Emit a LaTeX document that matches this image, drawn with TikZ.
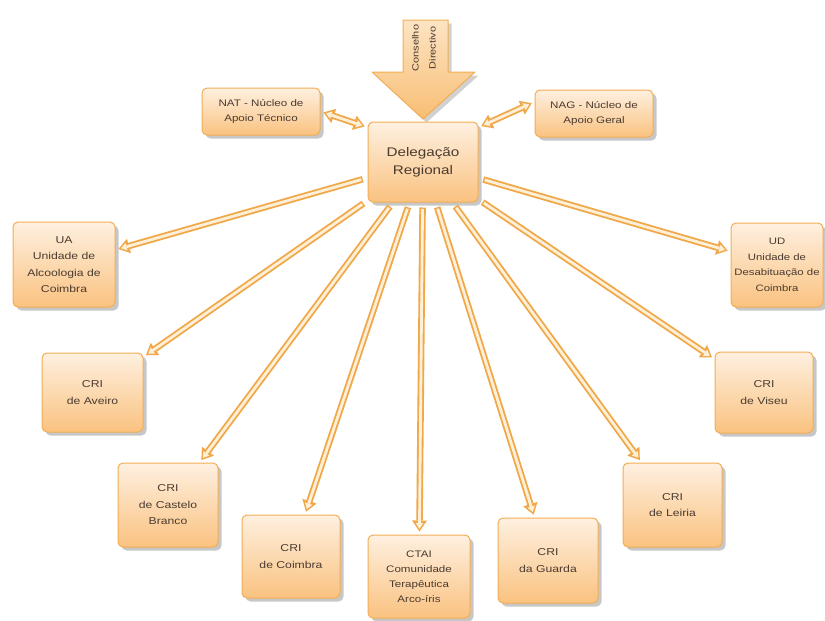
\documentclass[tikz,border=0pt]{standalone}
\usepackage{fontspec}
\setmainfont{Liberation Sans}[FakeStretch=1.22]
\usetikzlibrary{arrows.meta,shadows}
\definecolor{boxline}{HTML}{F2AE55}
\definecolor{boxtop}{HTML}{FEF0E0}
\definecolor{boxbot}{HTML}{FAC280}
\definecolor{txt}{HTML}{4A3B30}
\definecolor{arrline}{HTML}{F0A848}
\definecolor{arrin}{HTML}{FEF0D8}
\definecolor{bigtop}{HTML}{FDE4C4}
\definecolor{bigbot}{HTML}{F8BE74}
\tikzset{
  box/.style={draw=boxline, line width=1pt, rounded corners=5pt,
    top color=boxtop, bottom color=boxbot, align=center, text=txt,
    inner sep=2pt,
    drop shadow={shadow xshift=3.5pt, shadow yshift=-3.5pt, fill=black, opacity=0.22},
    font=\fontsize{10}{16.5}\selectfont},
  outerA/.style={line width=6.5pt, draw=arrline, shorten <=5pt, shorten >=3pt,
    -{Triangle[length=11pt,width=15pt,line width=0pt]}},
  innerA/.style={line width=2.8pt, draw=arrin, shorten <=6.5pt, shorten >=5.8pt,
    -{Triangle[length=5.6pt,width=7.6pt,line width=0pt]}},
  outerB/.style={line width=6.5pt, draw=arrline, shorten <=3pt, shorten >=3pt,
    {Triangle[length=11pt,width=15pt,line width=0pt]}-{Triangle[length=11pt,width=15pt,line width=0pt]}},
  innerB/.style={line width=2.8pt, draw=arrin, shorten <=5.8pt, shorten >=5.8pt,
    {Triangle[length=5.6pt,width=7.6pt,line width=0pt]}-{Triangle[length=5.6pt,width=7.6pt,line width=0pt]}},
}
\newcommand\onearrow[2]{\draw[outerA] (#1) -- (#2); \draw[innerA] (#1) -- (#2);}
\newcommand\twoarrow[2]{\draw[outerB] (#1) -- (#2); \draw[innerB] (#1) -- (#2);}
\begin{document}
\begin{tikzpicture}[x=1pt,y=-1pt]
\fill[white] (0,0) rectangle (825,621);
\useasboundingbox (0,0) rectangle (825,621);

% Conselho Directivo block arrow
\path[drop shadow={shadow xshift=3.5pt, shadow yshift=-3.5pt, fill=black, opacity=0.18},
  top color=bigtop, bottom color=bigbot, draw=boxline, line width=1pt, line join=round]
  (403,20) -- (448,20) -- (448,72) -- (475,72) -- (423,119) -- (372,72) -- (403,72) -- cycle;
\node[rotate=90, text=txt, align=center, font=\fontsize{9}{17}\selectfont] (cd) at (424,48) {Conselho\\Directivo};

% nodes
\node[box, minimum width=110pt, minimum height=80pt, font=\fontsize{12.5}{18}\selectfont] (del) at (423,162) {Delegação\\Regional};
\node[box, minimum width=118pt, minimum height=47pt, font=\fontsize{9.5}{15}\selectfont] (nat) at (261,111.5) {NAT - Núcleo de\\Apoio Técnico};
\node[box, minimum width=118pt, minimum height=47pt, font=\fontsize{9.5}{15}\selectfont] (nag) at (594,113.5) {NAG - Núcleo de\\Apoio Geral};
\node[box, minimum width=102pt, minimum height=85pt] (ua) at (64,264.5) {UA\\Unidade de\\Alcoologia de\\Coimbra};
\node[box, minimum width=101pt, minimum height=79pt] (ave) at (92.5,392.5) {CRI\\de Aveiro};
\node[box, minimum width=100pt, minimum height=84pt] (cb) at (168,505) {CRI\\de Castelo\\Branco};
\node[box, minimum width=98pt, minimum height=83pt] (coi) at (291,556.5) {CRI\\de Coimbra};
\node[box, minimum width=102pt, minimum height=83pt, font=\fontsize{9.5}{15}\selectfont] (ctai) at (419,576.5) {CTAI\\Comunidade\\Terapêutica\\Arco-íris};
\node[box, minimum width=100pt, minimum height=85pt] (gua) at (548,560.5) {CRI\\da Guarda};
\node[box, minimum width=99pt, minimum height=84pt] (lei) at (672.5,505) {CRI\\de Leiria};
\node[box, minimum width=98pt, minimum height=81pt] (vis) at (764,392.5) {CRI\\de Viseu};
\node[box, minimum width=92pt, minimum height=84pt, font=\fontsize{9.3}{15.5}\selectfont] (ud) at (777,265) {UD\\Unidade de\\Desabituação de\\Coimbra};

% connectors
\twoarrow{nat.east}{del.148}
\twoarrow{del.32}{nag.169}
\onearrow{del}{ua}
\onearrow{del}{ave}
\onearrow{del}{cb}
\onearrow{del}{coi}
\onearrow{del}{ctai}
\onearrow{del}{gua}
\onearrow{del}{lei}
\onearrow{del}{vis}
\onearrow{del}{ud}
\end{tikzpicture}
\end{document}
